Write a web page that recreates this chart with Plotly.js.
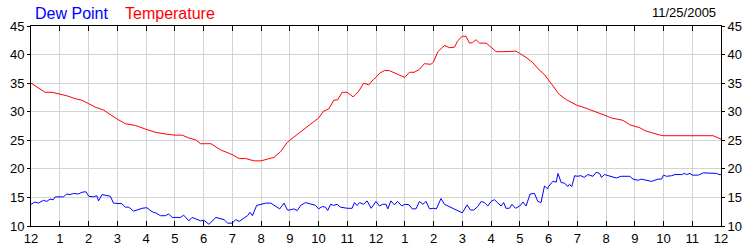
<!DOCTYPE html>
<html>
<head>
<meta charset="utf-8">
<script src="https://cdn.plot.ly/plotly-3.0.1.min.js"></script>
<style>html,body{margin:0;padding:0;background:#fff;}#chart{width:750px;height:250px;}</style>
</head>
<body>
<div id="chart"></div>
<script>
// Hours since midnight and values in °F
const tempHours = [0,0.14,0.37,0.49,0.73,1.01,1.24,1.53,1.77,2.01,2.23,2.52,2.76,2.93,3.0,3.28,3.63,4.01,4.33,4.67,5.01,5.26,5.49,5.72,5.9,6.0,
  6.26,6.6,7.0,7.24,7.47,7.76,8.0,8.22,8.45,8.68,8.91,9.0,9.26,9.49,9.72,10.0,10.18,10.36,10.53,10.67,10.82,11.0,11.2,11.4,11.57,11.75,11.92,12.0,
  12.12,12.29,12.46,12.64,12.81,13.0,13.16,13.33,13.51,13.68,13.91,14.0,14.15,14.39,14.55,14.73,14.84,15.0,15.13,15.25,15.36,15.48,15.6,15.83,16.0,
  16.18,16.41,16.64,16.87,17.0,17.22,17.45,17.68,17.86,18.0,
  18.21,18.38,18.62,18.79,19.0,19.2,19.43,19.6,19.78,20.0,20.19,20.36,20.59,20.83,21.0,21.17,21.35,21.58,21.81,22.0,22.17,22.51,23.0,23.44,23.73,24.0];
const temperature = [35.0,34.5,33.8,33.4,33.4,33.1,32.8,32.3,32.0,31.4,30.8,30.3,29.5,28.8,28.7,27.9,27.6,26.9,26.4,26.1,25.9,25.9,25.4,25.1,24.4,24.4,
  24.4,23.3,22.5,21.8,21.8,21.4,21.4,21.7,22.0,23.0,24.6,25.0,26.0,27.0,27.9,28.9,30.1,30.5,32.0,32.1,33.4,33.4,32.6,33.6,35.0,34.7,35.7,36.0,
  36.7,37.2,37.2,36.8,36.3,36.0,36.9,36.9,37.4,38.4,38.3,38.7,40.5,41.6,41.2,41.3,42.4,43.2,43.2,42.0,42.1,42.6,42.0,42.0,41.3,
  40.5,40.5,40.6,40.6,40.2,39.5,38.6,37.3,36.5,35.6,
  34.3,33.0,32.1,31.6,31.1,30.8,30.4,30.0,29.7,29.3,28.9,28.7,28.5,27.7,27.4,27.2,26.7,26.3,26.0,25.8,25.8,25.8,25.8,25.8,25.8,25.2];

const dewHours = [0,0.14,0.26,0.43,0.55,0.66,0.78,0.84,1.01,1.13,1.24,1.36,1.48,1.65,1.77,1.91,2.01,2.17,2.29,2.35,2.47,2.64,2.76,2.87,3.01,3.16,3.28,3.4,3.57,3.74,3.86,4.03,4.21,4.38,4.5,4.67,4.79,4.91,5.01,5.2,5.31,5.49,5.6,5.72,5.9,6.01,6.19,
  6.43,6.6,6.72,6.84,7.0,7.12,7.24,7.41,7.53,7.62,7.7,7.85,8.0,8.16,8.34,8.51,8.65,8.8,8.92,9.0,9.14,9.26,9.38,9.55,9.72,9.9,10.0,10.13,10.24,10.32,10.42,10.53,10.65,10.76,11.0,11.17,11.25,11.34,11.43,11.57,11.69,11.83,12.0,
  12.12,12.23,12.35,12.41,12.52,12.64,12.75,12.9,13.0,13.15,13.26,13.39,13.51,13.63,13.74,13.86,14.0,14.1,14.26,14.38,14.55,14.73,14.88,15.0,15.17,15.28,15.4,15.54,15.66,15.77,15.89,16.0,16.12,16.24,16.35,16.44,16.52,16.64,16.73,16.85,17.0,17.11,17.22,17.36,17.51,17.63,17.74,17.86,17.97,
  18.0,18.15,18.27,18.33,18.44,18.56,18.67,18.73,18.81,18.91,19.0,19.13,19.24,19.37,19.55,19.66,19.78,19.84,19.95,20.07,20.24,20.36,20.53,20.83,20.94,21.12,21.23,21.41,21.58,21.81,21.93,22.0,22.1,22.28,22.4,22.63,22.74,22.8,22.92,23.0,23.21,23.38,23.62,23.85,23.93,24.0];
const dewPoint = [13.8,14.2,14.0,14.5,14.3,14.7,14.6,15.1,15.1,15.1,15.6,15.5,15.7,15.6,15.9,16.0,15.2,15.1,15.3,14.4,15.5,15.3,15.2,14.0,13.9,13.9,13.3,13.3,12.6,12.9,13.1,13.2,12.5,12.2,11.8,11.8,12.1,11.5,11.5,11.5,11.9,10.9,11.5,11.3,10.9,11.0,10.3,
  11.5,11.2,11.1,10.5,10.5,11.1,10.8,11.4,11.8,12.4,11.8,13.6,13.8,14.0,14.0,13.5,13.0,14.0,12.8,12.8,13.0,12.7,13.6,14.1,13.8,13.6,13.0,13.4,13.3,12.7,13.8,13.6,13.8,13.3,13.1,13.1,14.1,13.6,14.1,13.8,14.4,13.1,14.3,
  13.5,13.8,13.8,13.0,14.4,13.7,14.3,13.5,13.8,13.7,13.0,13.0,14.3,13.8,14.3,13.0,13.1,13.0,14.8,13.8,13.4,12.9,12.5,12.3,13.7,12.8,12.8,13.4,14.3,14.1,13.5,14.3,14.6,14.1,13.5,14.1,13.1,13.1,13.8,13.1,13.5,14.2,13.5,15.6,15.7,14.3,14.1,17.0,16.5,
  16.9,17.8,17.7,19.2,17.6,17.5,16.9,17.3,16.9,18.8,18.7,18.8,18.5,19.0,18.7,19.4,19.2,18.5,19.0,18.8,18.6,18.4,18.7,18.7,18.2,18.0,18.2,18.0,17.8,18.2,18.2,18.9,18.7,18.8,19.0,19.0,19.2,19.0,19.2,18.9,18.9,19.3,19.3,19.2,19.0,19.0];

const hourTicks = [0,1,2,3,4,5,6,7,8,9,10,11,12,13,14,15,16,17,18,19,20,21,22,23,24];
const hourLabels = ['12','1','2','3','4','5','6','7','8','9','10','11','12','1','2','3','4','5','6','7','8','9','10','11','12'];
const yTicks = [10,15,20,25,30,35,40,45];
const seriesNames = ['Dew Point','Temperature'];
const dateLabel = '11/25/2005';

const FONT = 'Liberation Sans, Arial, sans-serif';

const traces = [
  {x: dewHours, y: dewPoint, type: 'scatter', mode: 'lines', name: seriesNames[0],
   line: {color: '#0000ff', width: 1}, hoverinfo: 'skip'},
  {x: tempHours, y: temperature, type: 'scatter', mode: 'lines', name: seriesNames[1],
   line: {color: '#ff0000', width: 1}, hoverinfo: 'skip'}
];

const layout = {
  width: 750, height: 250,
  margin: {l: 31, r: 29, t: 26, b: 24, pad: 0},
  paper_bgcolor: '#ffffff', plot_bgcolor: '#ffffff',
  showlegend: false,
  font: {family: FONT, size: 13, color: '#000000'},
  xaxis: {
    range: [0, 24], tickmode: 'array', tickvals: hourTicks, ticktext: hourLabels,
    showgrid: true, gridcolor: '#d3d3d3', gridwidth: 1,
    showline: true, linecolor: '#000000', linewidth: 1, mirror: 'ticks',
    ticks: 'inside', ticklen: 5, tickcolor: '#000000',
    zeroline: false, fixedrange: true,
    tickfont: {family: FONT, size: 13, color: '#000000'}
  },
  yaxis: {
    range: [10, 45], tickmode: 'array', tickvals: yTicks,
    showgrid: true, gridcolor: '#d3d3d3', gridwidth: 1,
    showline: true, linecolor: '#000000', linewidth: 1, mirror: true,
    ticks: 'outside', ticklen: 3, tickcolor: '#000000',
    zeroline: false, fixedrange: true,
    tickfont: {family: FONT, size: 13, color: '#000000'}
  },
  yaxis2: {
    range: [10, 45], tickmode: 'array', tickvals: yTicks,
    overlaying: 'y', side: 'right', anchor: 'x',
    showgrid: false, showline: false,
    ticks: 'outside', ticklen: 3, tickcolor: '#000000',
    zeroline: false, fixedrange: true,
    tickfont: {family: FONT, size: 13, color: '#000000'}
  },
  annotations: [
    {text: seriesNames[0], xref: 'paper', yref: 'paper', x: 0.003, y: 1.065,
     xanchor: 'left', yanchor: 'middle', showarrow: false,
     font: {family: FONT, size: 16, color: '#0000ff'}},
    {text: seriesNames[1], xref: 'paper', yref: 'paper', x: 0.1333, y: 1.065,
     xanchor: 'left', yanchor: 'middle', showarrow: false,
     font: {family: FONT, size: 16, color: '#ff0000'}},
    {text: dateLabel, xref: 'paper', yref: 'paper', x: 0.9957, y: 1.067,
     xanchor: 'right', yanchor: 'middle', showarrow: false,
     font: {family: FONT, size: 13, color: '#000000'}}
  ]
};

// invisible trace so the right-hand axis is drawn
traces.push({x: [0], y: [10], yaxis: 'y2', type: 'scatter', mode: 'markers',
  marker: {opacity: 0}, hoverinfo: 'skip', showlegend: false});

Plotly.newPlot('chart', traces, layout, {staticPlot: true, displayModeBar: false});
</script>
</body>
</html>
